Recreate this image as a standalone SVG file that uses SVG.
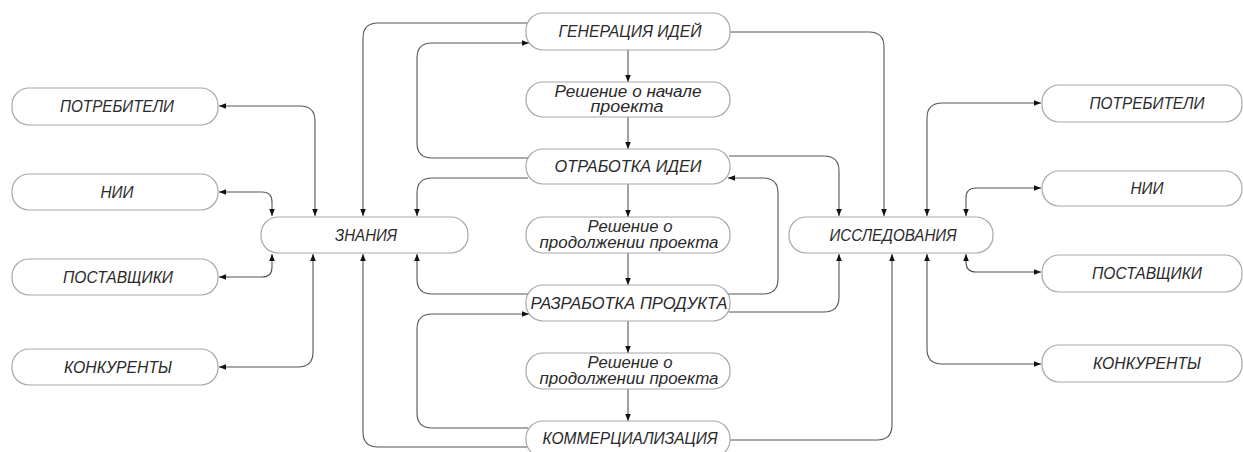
<svg xmlns="http://www.w3.org/2000/svg" width="1243" height="452" viewBox="0 0 1243 452">
<style>
.box{fill:#fff;stroke:#a8a8a8;stroke-width:1.2}
.t{font-family:"Liberation Sans",Arial,sans-serif;font-style:italic;font-size:16px;fill:#2a2a2a;text-anchor:middle}
.c{fill:none;stroke:#555;stroke-width:1.1}
</style>
<defs>
<marker id="ah" viewBox="0 0 10 10" refX="10" refY="5" markerWidth="7" markerHeight="7" orient="auto-start-reverse" markerUnits="userSpaceOnUse">
<path d="M0,1 L10,5 L0,9 Z" fill="#111"/>
</marker>
</defs>
<rect width="1243" height="452" fill="#fff"/>
<g id="connectors">
<path class="c" marker-start="url(#ah)" marker-end="url(#ah)" d="M219,106 H300 Q315,106 315,121 V216"/>
<path class="c" marker-start="url(#ah)" marker-end="url(#ah)" d="M219,192 H262 Q272,192 272,202 V216"/>
<path class="c" marker-start="url(#ah)" marker-end="url(#ah)" d="M219,277 H262 Q272,277 272,267 V254"/>
<path class="c" marker-start="url(#ah)" marker-end="url(#ah)" d="M219,367 H298 Q313,367 313,352 V254"/>
<path class="c" marker-end="url(#ah)" d="M528,23 H378 Q363,23 363,38 V216"/>
<path class="c" marker-end="url(#ah)" d="M528,158 H432 Q417,158 417,143 V58 Q417,43 432,43 H529"/>
<path class="c" marker-end="url(#ah)" d="M528,178 H432 Q417,178 417,193 V216"/>
<path class="c" marker-end="url(#ah)" d="M528,294 H432 Q417,294 417,279 V254"/>
<path class="c" marker-end="url(#ah)" d="M528,428 H432 Q417,428 417,413 V329 Q417,314 432,314 H529"/>
<path class="c" marker-end="url(#ah)" d="M529,447 H378 Q363,447 363,432 V254"/>
<path class="c" marker-end="url(#ah)" d="M628,50 V82"/>
<path class="c" marker-end="url(#ah)" d="M628,117 V149"/>
<path class="c" marker-end="url(#ah)" d="M628,184 V217"/>
<path class="c" marker-end="url(#ah)" d="M628,253 V285"/>
<path class="c" marker-end="url(#ah)" d="M628,321 V353"/>
<path class="c" marker-end="url(#ah)" d="M628,389 V421"/>
<path class="c" marker-end="url(#ah)" d="M730,32 H869 Q884,32 884,47 V216"/>
<path class="c" marker-end="url(#ah)" d="M729,156 H824 Q839,156 839,171 V216"/>
<path class="c" marker-end="url(#ah)" d="M728,294 H763 Q778,294 778,279 V193 Q778,178 763,178 H728"/>
<path class="c" d="M729,312 H824 Q839,312 839,297 V254" marker-end="url(#ah)"/>
<path class="c" marker-end="url(#ah)" d="M728,440 H877 Q892,440 892,425 V254"/>
<path class="c" marker-start="url(#ah)" marker-end="url(#ah)" d="M927,216 V118 Q927,103 942,103 H1041"/>
<path class="c" marker-start="url(#ah)" marker-end="url(#ah)" d="M966,216 V198 Q966,188 976,188 H1041"/>
<path class="c" marker-start="url(#ah)" marker-end="url(#ah)" d="M966,254 V262 Q966,272 976,272 H1041"/>
<path class="c" marker-start="url(#ah)" marker-end="url(#ah)" d="M927,254 V349 Q927,364 942,364 H1041"/>
</g>
<g id="n-potr-l"><rect class="box" x="12" y="88" width="206" height="37" rx="17"/><text class="t" x="117" y="112" textLength="114" lengthAdjust="spacingAndGlyphs">ПОТРЕБИТЕЛИ</text></g>
<g id="n-nii-l"><rect class="box" x="12" y="174" width="206" height="36" rx="17"/><text class="t" x="117" y="198" textLength="33" lengthAdjust="spacingAndGlyphs">НИИ</text></g>
<g id="n-post-l"><rect class="box" x="12" y="259" width="206" height="36" rx="17"/><text class="t" x="118" y="283" textLength="110" lengthAdjust="spacingAndGlyphs">ПОСТАВЩИКИ</text></g>
<g id="n-konk-l"><rect class="box" x="12" y="349" width="206" height="36" rx="17"/><text class="t" x="118" y="373" textLength="108" lengthAdjust="spacingAndGlyphs">КОНКУРЕНТЫ</text></g>
<g id="n-znaniya"><rect class="box" x="261" y="217" width="207" height="36" rx="17"/><text class="t" x="366" y="241" textLength="62" lengthAdjust="spacingAndGlyphs">ЗНАНИЯ</text></g>
<g id="n-gen"><rect class="box" x="526" y="13" width="204" height="37" rx="17"/><text class="t" x="630" y="37" textLength="143" lengthAdjust="spacingAndGlyphs">ГЕНЕРАЦИЯ ИДЕЙ</text></g>
<g id="n-resh1"><rect class="box" x="526" y="82" width="204" height="35" rx="17"/><text class="t" x="628" y="97" textLength="147" lengthAdjust="spacingAndGlyphs">Решение о начале</text><text class="t" x="627" y="112" textLength="73" lengthAdjust="spacingAndGlyphs">проекта</text></g>
<g id="n-otr"><rect class="box" x="526" y="149" width="204" height="35" rx="17"/><text class="t" x="628" y="172" textLength="147" lengthAdjust="spacingAndGlyphs">ОТРАБОТКА ИДЕИ</text></g>
<g id="n-resh2"><rect class="box" x="526" y="217" width="204" height="36" rx="17"/><text class="t" x="630" y="232" textLength="85" lengthAdjust="spacingAndGlyphs">Решение о</text><text class="t" x="629" y="248" textLength="179" lengthAdjust="spacingAndGlyphs">продолжении проекта</text></g>
<g id="n-razr"><rect class="box" x="526" y="285" width="204" height="36" rx="17"/><text class="t" x="629" y="309" textLength="197" lengthAdjust="spacingAndGlyphs">РАЗРАБОТКА ПРОДУКТА</text></g>
<g id="n-resh3"><rect class="box" x="526" y="353" width="204" height="36" rx="17"/><text class="t" x="630" y="368" textLength="85" lengthAdjust="spacingAndGlyphs">Решение о</text><text class="t" x="629" y="384" textLength="179" lengthAdjust="spacingAndGlyphs">продолжении проекта</text></g>
<g id="n-komm"><rect class="box" x="526" y="421" width="204" height="36" rx="17"/><text class="t" x="630" y="444" textLength="175" lengthAdjust="spacingAndGlyphs">КОММЕРЦИАЛИЗАЦИЯ</text></g>
<g id="n-issl"><rect class="box" x="789" y="217" width="204" height="36" rx="17"/><text class="t" x="893" y="241" textLength="127" lengthAdjust="spacingAndGlyphs">ИССЛЕДОВАНИЯ</text></g>
<g id="n-potr-r"><rect class="box" x="1042" y="85" width="200" height="37" rx="17"/><text class="t" x="1147" y="109" textLength="115" lengthAdjust="spacingAndGlyphs">ПОТРЕБИТЕЛИ</text></g>
<g id="n-nii-r"><rect class="box" x="1042" y="171" width="200" height="35" rx="17"/><text class="t" x="1147" y="194" textLength="33" lengthAdjust="spacingAndGlyphs">НИИ</text></g>
<g id="n-post-r"><rect class="box" x="1042" y="255" width="200" height="37" rx="17"/><text class="t" x="1147" y="279" textLength="110" lengthAdjust="spacingAndGlyphs">ПОСТАВЩИКИ</text></g>
<g id="n-konk-r"><rect class="box" x="1042" y="345" width="200" height="37" rx="17"/><text class="t" x="1147" y="369" textLength="108" lengthAdjust="spacingAndGlyphs">КОНКУРЕНТЫ</text></g>
</svg>
